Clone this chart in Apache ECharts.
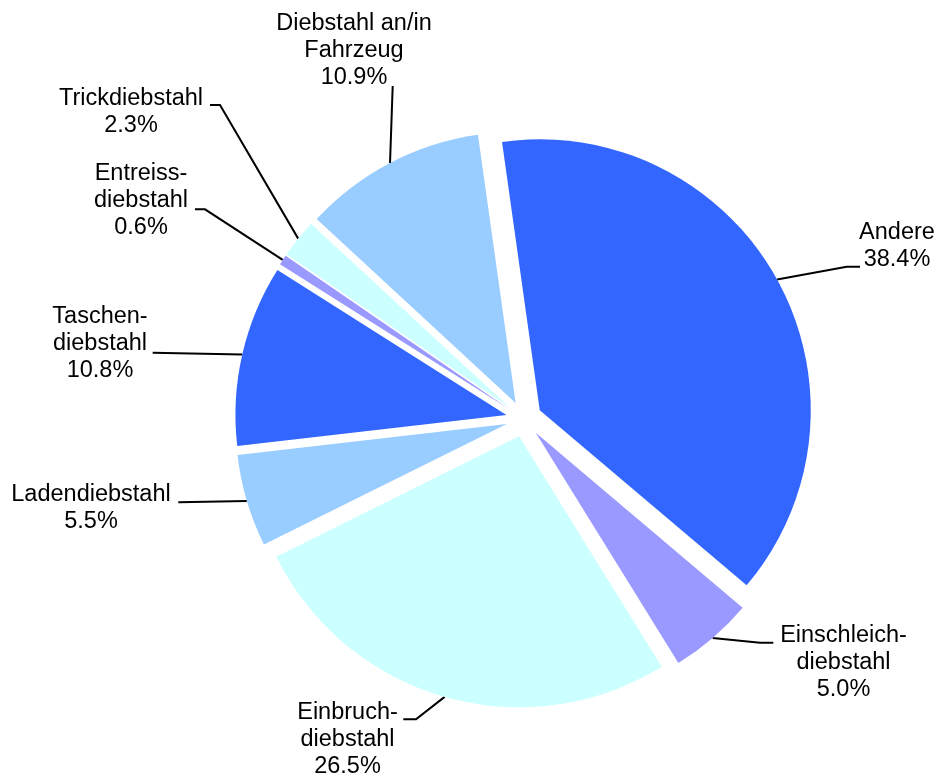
<!DOCTYPE html>
<html>
<head>
<meta charset="utf-8">
<script src="https://cdn.jsdelivr.net/npm/echarts@6/dist/echarts.min.js"></script>
<style>
html, body { margin: 0; padding: 0; background: #ffffff; }
#chart { width: 940px; height: 778px; }
</style>
</head>
<body>
<div id="chart"></div>
<script>
// ---- data ----
const categories = [
  'Andere',
  'Einschleich-\ndiebstahl',
  'Einbruch-\ndiebstahl',
  'Ladendiebstahl',
  'Taschen-\ndiebstahl',
  'Entreiss-\ndiebstahl',
  'Trickdiebstahl',
  'Diebstahl an/in\nFahrzeug'
];
const shares = [38.4, 5.0, 26.5, 5.5, 10.8, 0.6, 2.3, 10.9];

// ---- styles / layout ----
const colors = ['#3366FF', '#9999FF', '#CCFFFF', '#99CCFF', '#3366FF', '#9999FF', '#CCFFFF', '#99CCFF'];
const CENTER = [524, 419];
const RADIUS = 271;
const OFFSET = 18;
const START = 98;
const labelPos = [[897, 246], [843.5, 663], [347.5, 740], [91, 508], [100, 344], [141, 201], [131, 112], [354, 50.5]];
const leaderPts = [
  [[846.7, 266.7], [860, 266.7]],
  [[760, 642.7], [773.3, 642.7]],
  [[416, 719.3], [403.3, 719.3]],
  [[178.3, 502.3]],
  [[152.7, 352.7]],
  [[205, 209.3], [195, 209.3]],
  [[220, 105], [210, 105]],
  [[392.7, 86]]
];

// arc midpoint of each exploded slice, derived from the data
const total = shares.reduce((a, b) => a + b, 0);
let acc = 0;
const arcMid = shares.map(v => {
  const a0 = acc; acc += v;
  const mid = START * Math.PI / 180 - ((a0 + v / 2) / total) * 2 * Math.PI;
  const r = RADIUS + OFFSET;
  return [CENTER[0] + r * Math.cos(mid), CENTER[1] - r * Math.sin(mid)];
});

const chart = echarts.init(document.getElementById('chart'), null, { renderer: 'canvas' });
const option = {
  animation: false,
  backgroundColor: '#ffffff',
  series: [
    {
      type: 'pie',
      center: CENTER,
      radius: RADIUS,
      startAngle: START,
      clockwise: true,
      selectedMode: 'multiple',
      selectedOffset: OFFSET,
      label: { show: false },
      labelLine: { show: false },
      emphasis: { disabled: true },
      itemStyle: { borderWidth: 0 },
      data: shares.map((v, i) => ({
        name: categories[i], value: v, selected: true,
        itemStyle: { color: colors[i] }
      }))
    },
    {
      type: 'pie',
      center: CENTER,
      radius: RADIUS + OFFSET,
      startAngle: START,
      clockwise: true,
      silent: true,
      avoidLabelOverlap: false,
      emphasis: { disabled: true },
      itemStyle: { color: 'rgba(0,0,0,0)', borderWidth: 0 },
      label: {
        show: true,
        position: 'outside',
        formatter: p => p.name + '\n' + p.value.toFixed(1) + '%',
        color: '#000000',
        fontSize: 23.5,
        lineHeight: 27,
        fontFamily: '"Liberation Sans", Arial, Helvetica, sans-serif'
      },
      labelLine: { show: true, lineStyle: { color: '#000000', width: 2 } },
      labelLayout: function (p) {
        const i = p.dataIndex;
        const pts = [arcMid[i]].concat(leaderPts[i]);
        if (pts.length === 2) pts.splice(1, 0, pts[1].slice());
        return {
          x: labelPos[i][0], y: labelPos[i][1],
          align: 'center', verticalAlign: 'middle',
          labelLinePoints: pts
        };
      },
      data: shares.map((v, i) => ({ name: categories[i], value: v }))
    }
  ]
};
chart.setOption(option);
</script>
</body>
</html>
